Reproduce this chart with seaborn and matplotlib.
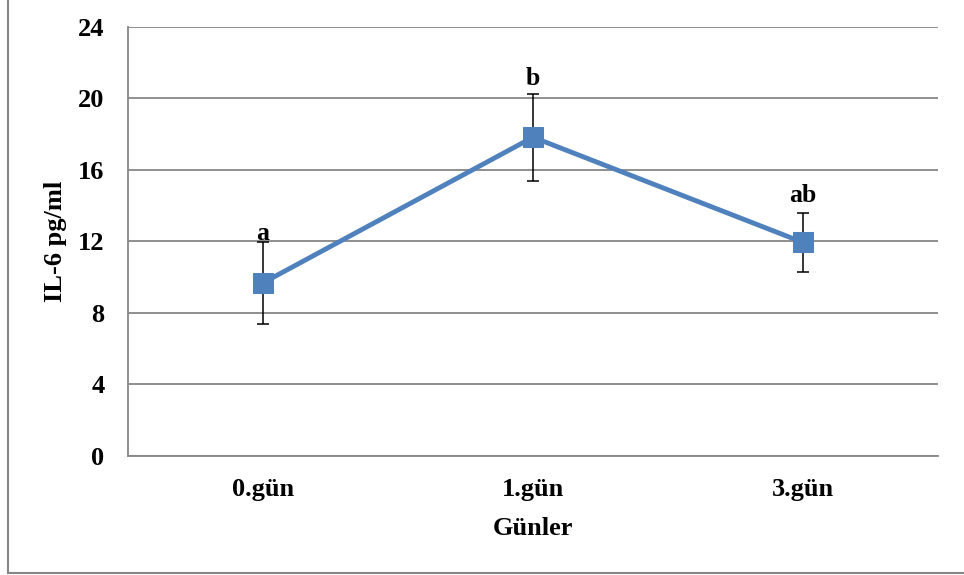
import matplotlib
matplotlib.use("Agg")
import matplotlib.pyplot as plt
import seaborn as sns
import numpy as np
import pandas as pd
from matplotlib.lines import Line2D

categories = ["0.gün", "1.gün", "3.gün"]
means = [9.68, 17.82, 11.94]
errors = [2.30, 2.44, 1.66]
letters = ["a", "b", "ab"]
letter_y = [12.1, 20.74, 14.21]
y_ticks = [0, 4, 8, 12, 16, 20, 24]

sns.set_theme(style="white")
plt.rcParams['font.family'] = ['Liberation Serif', 'DejaVu Serif']
plt.rcParams['font.weight'] = 'bold'

W, H = 964, 575
fig = plt.figure(figsize=(W / 100, H / 100), dpi=100)
ax = fig.add_axes([128 / W, (H - 456) / H, (938 - 128) / W, (456 - 26.7) / H])

df = pd.DataFrame({"Gün": categories, "IL6": means})
blue = "#4F81BD"
grey = "#868686"

sns.lineplot(data=df, x="Gün", y="IL6", ax=ax, color=blue, linewidth=3.5,
             marker="s", markersize=14, markeredgecolor=blue,
             markerfacecolor=blue, zorder=4, sort=False)

xpos = np.arange(len(categories))
ax.errorbar(xpos, means, yerr=errors, fmt="none", ecolor="black",
            elinewidth=1.1, capsize=4.5, capthick=1.1, zorder=3)

for x, lab, ly in zip(xpos, letters, letter_y):
    ax.text(x, ly, lab, ha="center", va="baseline", fontsize=18.5,
            fontweight="bold", color="black")

ax.set_xlim(-0.5, len(categories) - 0.5)
ax.set_ylim(0, 24)
ax.set_yticks(y_ticks)
ax.set_yticklabels([str(t) for t in y_ticks], fontsize=19, fontweight="bold")
ax.set_xticks(xpos)
ax.set_xticklabels(categories, fontsize=19, fontweight="bold")
ax.set_xticks(np.arange(len(categories) + 1) - 0.5, minor=True)
ax.tick_params(axis="x", which="major", length=0, pad=15.5, colors="black")
ax.tick_params(axis="x", which="minor", length=7, width=1.3, color=grey, direction="out")
ax.tick_params(axis="y", which="major", length=7, width=1.3, color=grey,
               direction="out", pad=10, labelcolor="black")

ax.grid(axis="y", color=grey, linewidth=1.3)
ax.grid(axis="x", visible=False)
ax.set_axisbelow(True)
for s in ["top", "right"]:
    ax.spines[s].set_visible(False)
for s in ["left", "bottom"]:
    ax.spines[s].set_color(grey)
    ax.spines[s].set_linewidth(1.3)

ax.set_xlabel("Günler", fontsize=19, fontweight="bold", labelpad=12, color="black")
ax.set_ylabel("IL-6 pg/ml", fontsize=19, fontweight="bold", labelpad=8, color="black")

# outer chart frame
fig.add_artist(Line2D([8 / W, 8 / W], [(H - 573) / H, 1.0], transform=fig.transFigure,
                      color=grey, linewidth=1.5))
fig.add_artist(Line2D([8 / W, 1.0], [(H - 573) / H, (H - 573) / H], transform=fig.transFigure,
                      color=grey, linewidth=1.5))

fig.savefig("out.png", dpi=100)
